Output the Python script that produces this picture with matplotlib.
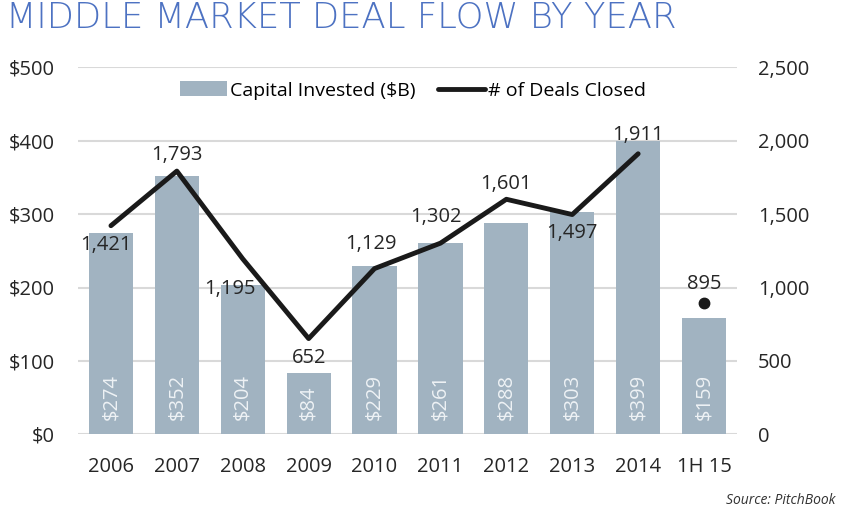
import matplotlib
matplotlib.use("Agg")
import matplotlib.pyplot as plt
from matplotlib.ticker import FuncFormatter

categories = ["2006", "2007", "2008", "2009", "2010", "2011", "2012", "2013", "2014", "1H 15"]
capital = [274, 352, 204, 84, 229, 261, 288, 303, 399, 159]
deals_line = [1421, 1793, 1195, 652, 1129, 1302, 1601, 1497, 1911]
deals_last = 895

# label offsets from each point, in pixels (dx right, dy down)
label_offsets_px = [(-5, 19), (0, -16), (-13, 30), (0, 19), (-4, -25), (-5, -26), (0, -15), (0, 18), (0, -19)]
last_offset_px = (0, -19)

plt.rcParams['font.family'] = ['Open Sans', 'DejaVu Sans']

fig = plt.figure(figsize=(8.44, 5.16), dpi=100)
ax = fig.add_axes([78 / 844, 1 - 434.3 / 516, 659 / 844, 367 / 516])
ax2 = ax.twinx()

x = list(range(len(categories)))
bar_color = "#a1b3c1"
text_color = "#262626"
bars = ax.bar(x, capital, width=0.67, color=bar_color, zorder=2, label="Capital Invested ($B)")
ax.set_ylim(0, 500)
ax.set_xlim(-0.5, 9.5)
ax.set_yticks(range(0, 501, 100))
ax.yaxis.set_major_formatter(FuncFormatter(lambda v, p: f"${int(v)}"))
ax.grid(axis='y', color="#d9d9d9", linewidth=1.5, zorder=0)
ax.set_axisbelow(True)
for s in ax.spines.values():
    s.set_visible(False)
for s in ax2.spines.values():
    s.set_visible(False)
ax.tick_params(axis='both', length=0, labelsize=14.5, colors=text_color)
ax.tick_params(axis='y', pad=16.5)
ax.tick_params(axis='x', pad=16)
ax.set_xticks(x)
ax.set_xticklabels(categories)

for xi, v in zip(x, capital):
    ax.text(xi, 19, f"${v}", rotation=90, ha='center', va='bottom', color='#eef2f5', fontsize=14.5, zorder=3)

ax2.set_ylim(0, 2500)
ax2.set_yticks(range(0, 2501, 500))
ax2.yaxis.set_major_formatter(FuncFormatter(lambda v, p: f"{int(v):,}"))
ax2.tick_params(axis='y', length=0, labelsize=14.5, colors=text_color, pad=15)
ln, = ax2.plot(x[:len(deals_line)], deals_line, color="#1a1a1a", linewidth=3.5, zorder=4,
               solid_capstyle='round', label="# of Deals Closed")
ax2.plot([x[-1]], [deals_last], 'o', color="#1a1a1a", markersize=7.5, zorder=4)

px2pt = 0.72
for xi, v, (dx, dy) in zip(x, deals_line, label_offsets_px):
    ax2.annotate(f"{v:,}", (xi, v), xytext=(dx * px2pt, -dy * px2pt), textcoords='offset points',
                 ha='center', va='center', fontsize=14.5, color=text_color, zorder=5)
ax2.annotate(f"{deals_last:,}", (x[-1], deals_last),
             xytext=(last_offset_px[0] * px2pt, -last_offset_px[1] * px2pt), textcoords='offset points',
             ha='center', va='center', fontsize=14.5, color=text_color, zorder=5)

leg = ax.legend(handles=[bars, ln], loc='center', bbox_to_anchor=(413 / 844, 1 - 90.5 / 516),
                bbox_transform=fig.transFigure, ncol=2, frameon=False,
                fontsize=14, handlelength=2.4, handleheight=0.8, columnspacing=1.2, handletextpad=0.15,
                borderpad=0, borderaxespad=0)

fig.text(6 / 844, 1 - 27 / 516, "MIDDLE MARKET DEAL FLOW BY YEAR", fontsize=25.5, color="#4d72c2",
         ha='left', va='baseline', family=['DejaVu Sans'], fontweight='light')
fig.text(835 / 844, 1 - 500 / 516, "Source: PitchBook", fontsize=10, style='italic', ha='right',
         va='center', color="#333333")

fig.savefig("out.png", dpi=100)
